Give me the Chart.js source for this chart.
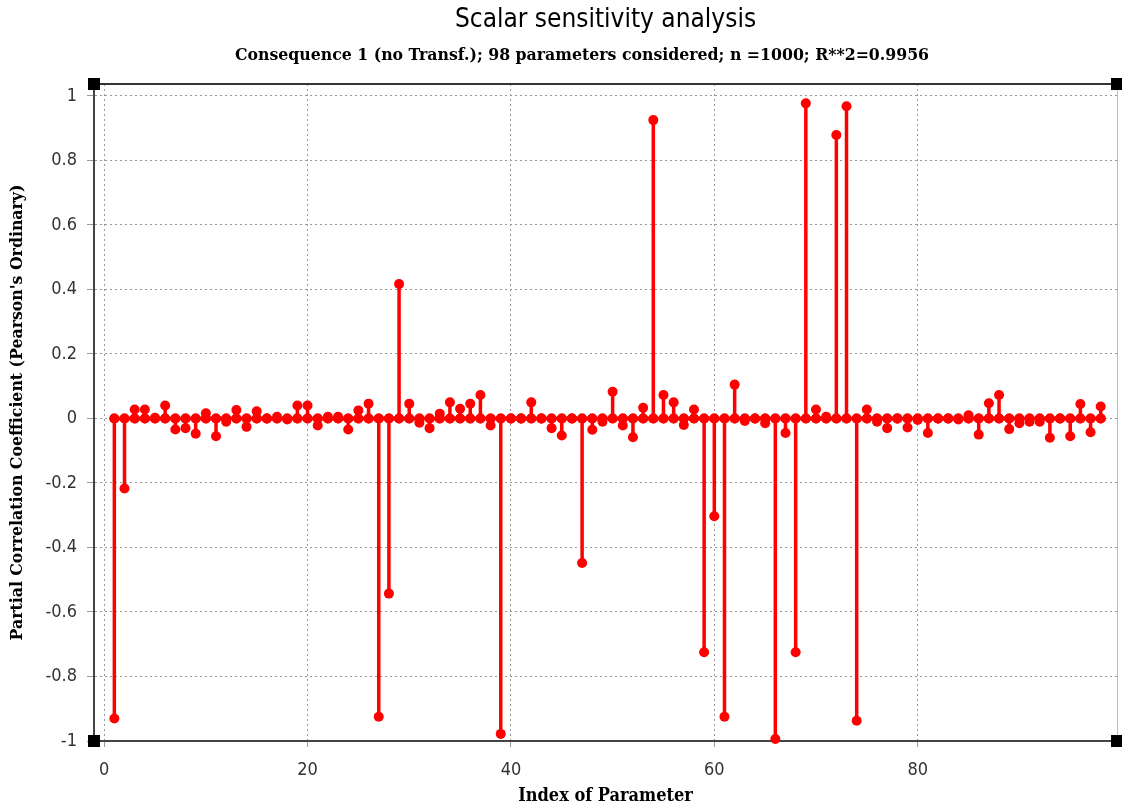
<!DOCTYPE html>
<html>
<head>
<meta charset="utf-8">
<script src="https://cdn.jsdelivr.net/npm/chart.js@4"></script>
<style>
  html, body { margin: 0; background: #fff; }
</style>
</head>
<body>
<canvas id="pccChart" width="1122" height="807"></canvas>
<script>
// values, index 1..98
const paramIndex = Array.from({ length: 98 }, (_, i) => i + 1);
const pcc = [
  -0.93, -0.217, 0.028, 0.028, 0.002, 0.04, -0.034, -0.03, -0.047, 0.016,
  -0.055, -0.01, 0.026, -0.026, 0.022, 0.0, 0.005, -0.003, 0.04, 0.04,
  -0.022, 0.005, 0.005, -0.034, 0.025, 0.046, -0.925, -0.543, 0.417, 0.046,
  -0.013, -0.03, 0.015, 0.05, 0.03, 0.046, 0.073, -0.022, -0.978, 0.0,
  0.0, 0.05, 0.0, -0.03, -0.053, 0.0, -0.448, -0.035, -0.01, 0.083,
  -0.022, -0.058, 0.033, 0.925, 0.073, 0.05, -0.02, 0.028, -0.725, -0.303,
  -0.925, 0.105, -0.008, 0.0, -0.015, -0.994, -0.045, -0.725, 0.977, 0.028,
  0.005, 0.879, 0.968, -0.937, 0.028, -0.01, -0.03, 0.0, -0.028, -0.005,
  -0.045, 0.0, 0.0, -0.003, 0.01, -0.05, 0.047, 0.073, -0.033, -0.015,
  -0.01, -0.01, -0.06, 0.0, -0.055, 0.045, -0.043, 0.037
];
const xTickValues = [0, 20, 40, 60, 80];
const yTickValues = [-1, -0.8, -0.6, -0.4, -0.2, 0, 0.2, 0.4, 0.6, 0.8, 1];
const yTickLabels = ['-1', '-0.8', '-0.6', '-0.4', '-0.2', '0', '0.2', '0.4', '0.6', '0.8', '1'];

const titleText = 'Scalar sensitivity analysis';
const subtitleText = 'Consequence 1 (no Transf.); 98 parameters considered; n =1000; R**2=0.9956';

// stem polyline: 0 -> value -> 0 at each index, joined along the zero line
const stemPoints = [];
paramIndex.forEach((idx, i) => {
  stemPoints.push({ x: idx, y: 0 }, { x: idx, y: pcc[i] }, { x: idx, y: 0 });
});

const sansCond = '"DejaVu Sans Condensed", "DejaVu Sans", sans-serif';
const serifCond = '"DejaVu Serif Condensed", "DejaVu Serif", serif';

// titles, top/right frame and the black corner squares
const framePlugin = {
  id: 'frame',
  afterDraw(chart) {
    const { ctx, chartArea: a } = chart;
    ctx.save();
    ctx.fillStyle = '#000';
    ctx.textAlign = 'center';
    ctx.textBaseline = 'middle';
    ctx.font = '26px ' + sansCond;
    ctx.fillText(titleText, (a.left + a.right) / 2, 20);
    ctx.font = 'bold 17.5px ' + serifCond;
    ctx.fillText(subtitleText, 582, 55);

    ctx.strokeStyle = '#333';
    ctx.lineWidth = 2;
    ctx.beginPath();
    ctx.moveTo(a.left, a.top);
    ctx.lineTo(a.right, a.top);
    ctx.stroke();
    ctx.strokeStyle = '#bbb';
    ctx.lineWidth = 1;
    ctx.beginPath();
    ctx.moveTo(a.right + 0.5, a.top);
    ctx.lineTo(a.right + 0.5, a.bottom);
    ctx.stroke();

    ctx.fillStyle = '#000';
    [[a.left, a.top], [a.right, a.top], [a.left, a.bottom], [a.right, a.bottom]].forEach(([x, y]) => {
      ctx.fillRect(x - 6, y - 6, 12, 12);
    });
    ctx.restore();
  }
};

const ctx = document.getElementById('pccChart').getContext('2d');
new Chart(ctx, {
  type: 'line',
  data: {
    datasets: [{
      data: stemPoints,
      borderColor: '#ff0000',
      borderWidth: 3.5,
      backgroundColor: '#ff0000',
      pointRadius: 5,
      pointBorderWidth: 0,
      pointBackgroundColor: '#ff0000',
      tension: 0,
      clip: false
    }]
  },
  options: {
    responsive: false,
    animation: false,
    devicePixelRatio: 1,
    layout: { padding: { top: 84, right: 3, left: 0, bottom: 0 } },
    plugins: {
      legend: { display: false },
      tooltip: { enabled: false }
    },
    scales: {
      x: {
        type: 'linear',
        min: -1,
        max: 99.6,
        afterBuildTicks: s => { s.ticks = xTickValues.map(v => ({ value: v })); },
        afterFit: s => { s.height = 66; },
        grid: { color: '#999', lineWidth: 1, tickLength: 6, tickColor: '#999' },
        border: { display: true, color: '#444', width: 2, dash: [2, 3] },
        ticks: {
          color: '#333',
          padding: 13,
          maxRotation: 0,
          font: { family: sansCond, size: 18 },
          callback: v => String(v)
        },
        title: {
          display: true,
          text: 'Index of Parameter',
          color: '#000',
          padding: { top: 0, bottom: 0 },
          font: { family: serifCond, size: 18, weight: 'bold' }
        }
      },
      y: {
        min: -1,
        max: 1.037,
        afterBuildTicks: s => { s.ticks = yTickValues.map(v => ({ value: v })); },
        afterFit: s => { s.width = 94; },
        grid: { color: '#999', lineWidth: 1, tickLength: 7, tickColor: '#999' },
        border: { display: true, color: '#444', width: 2, dash: [2, 3] },
        ticks: {
          color: '#333',
          padding: 10,
          font: { family: sansCond, size: 18 },
          callback: v => {
            const i = yTickValues.findIndex(t => Math.abs(t - v) < 1e-9);
            return i >= 0 ? yTickLabels[i] : '';
          }
        },
        title: {
          display: true,
          text: "Partial Correlation Coefficient (Pearson's Ordinary)",
          color: '#000',
          padding: { top: 7, bottom: 0 },
          font: { family: serifCond, size: 17.5, weight: 'bold' }
        }
      }
    }
  },
  plugins: [framePlugin]
});
</script>
</body>
</html>
